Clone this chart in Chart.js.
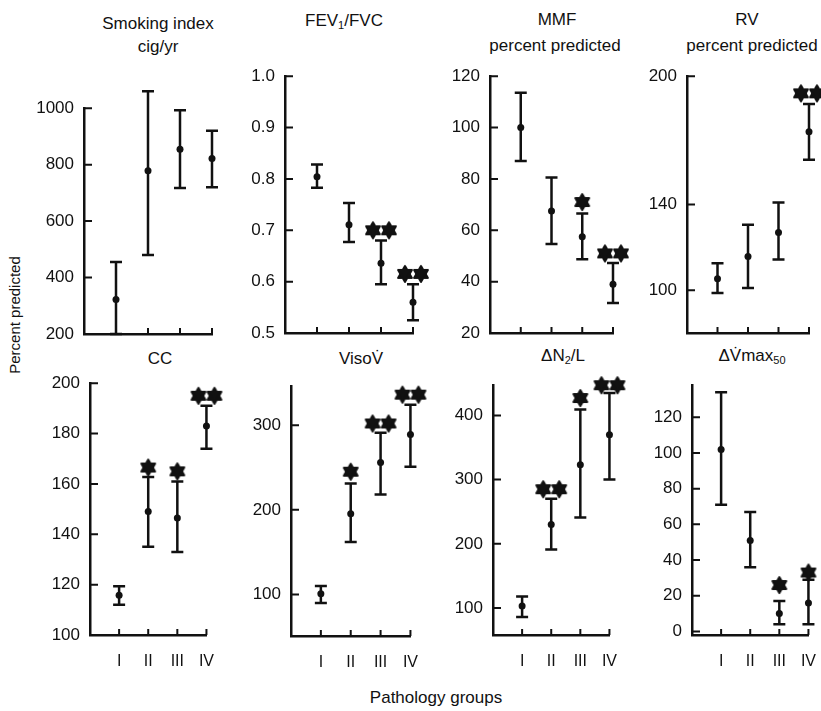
<!DOCTYPE html>
<html lang="en">
<head>
<meta charset="UTF-8">
<title>Pathology groups</title>
<script src="https://cdn.jsdelivr.net/npm/chart.js"></script>
<style>
  body { margin: 0; width: 821px; height: 711px; overflow: hidden; position: relative; background: #fff;
         font-family: "Liberation Sans", Arial, sans-serif; color: #111; }
  .panel { position: absolute; }
  .lbl { position: absolute; font-size: 17px; white-space: nowrap; transform: translate(-50%, -50%); }
  .lbl sub { font-size: 11px; vertical-align: -3px; }
  .ylab { position: absolute; left: 14px; top: 315px; font-size: 15px; white-space: nowrap;
          transform: translate(-50%, -50%) rotate(-90deg); }
</style>
</head>
<body>
<div class="lbl" style="left:158px; top:24px">Smoking index</div>
<div class="lbl" style="left:158px; top:47px">cig/yr</div>
<div class="lbl" style="left:344px; top:21px">FEV<sub>1</sub>/FVC</div>
<div class="lbl" style="left:557px; top:20px">MMF</div>
<div class="lbl" style="left:555px; top:46px">percent predicted</div>
<div class="lbl" style="left:747px; top:20px">RV</div>
<div class="lbl" style="left:752px; top:46px">percent predicted</div>
<div class="lbl" style="left:160px; top:359px">CC</div>
<div class="lbl" style="left:361px; top:359px">VisoV&#775;</div>
<div class="lbl" style="left:563px; top:356px">&Delta;N<sub>2</sub>/L</div>
<div class="lbl" style="left:752px; top:356px">&Delta;V&#775;max<sub>50</sub></div>
<div class="ylab">Percent predicted</div>
<div class="lbl" style="left:436px; top:698px">Pathology groups</div>

<script>
// groups on the x axis
const groups = ["I", "II", "III", "IV"];

// Smoking index, cig/yr
const smokingMean = [322, 778, 855, 822];
const smokingHigh = [455, 1060, 993, 920];
const smokingLow = [200, 480, 717, 720];
const smokingStarAt = [null, null, null, null];
const smokingStars = [0, 0, 0, 0];
const smokingTicks = [200, 400, 600, 800, 1000];

// FEV1/FVC
const fevMean = [0.804, 0.711, 0.636, 0.56];
const fevHigh = [0.828, 0.753, 0.68, 0.595];
const fevLow = [0.783, 0.677, 0.595, 0.525];
const fevStarAt = [null, null, 0.70, 0.615];
const fevStars = [0, 0, 2, 2];
const fevTicks = [0.5, 0.6, 0.7, 0.8, 0.9, 1.0];

// MMF percent predicted
const mmfMean = [100, 67.5, 57.5, 39];
const mmfHigh = [113.6, 80.6, 66.5, 47.3];
const mmfLow = [87, 54.7, 48.7, 31.7];
const mmfStarAt = [null, null, 71, 51];
const mmfStars = [0, 0, 1, 2];
const mmfTicks = [20, 40, 60, 80, 100, 120];

// RV percent predicted
const rvMean = [105.4, 115.8, 127, 174];
const rvHigh = [112.6, 130.6, 141, 187];
const rvLow = [98.7, 101, 114.4, 161];
const rvStarAt = [null, null, null, 192];
const rvStars = [0, 0, 0, 2];
const rvTicks = [100, 140, 200];

// CC
const ccMean = [115.8, 149, 146.5, 183];
const ccHigh = [119.4, 162.7, 161, 191];
const ccLow = [112, 135, 133, 174];
const ccStarAt = [null, 166.5, 165, 195];
const ccStars = [0, 1, 1, 2];
const ccTicks = [100, 120, 140, 160, 180, 200];

// Viso V
const visoMean = [101, 195.5, 256, 289];
const visoHigh = [110, 231, 291, 324];
const visoLow = [90, 162, 218, 251];
const visoStarAt = [null, 245, 302, 336];
const visoStars = [0, 1, 2, 2];
const visoTicks = [100, 200, 300];

// delta N2 / L
const n2Mean = [103, 230, 323, 370];
const n2High = [118, 270, 409, 435];
const n2Low = [86, 191, 241, 300];
const n2StarAt = [null, 285, 427, 447];
const n2Stars = [0, 2, 1, 2];
const n2Ticks = [100, 200, 300, 400];

// delta Vmax50
const vmaxMean = [102, 51, 10, 16];
const vmaxHigh = [134, 67, 17, 29];
const vmaxLow = [71, 36, 4, 4];
const vmaxStarAt = [null, null, 26, 33];
const vmaxStars = [0, 0, 1, 1];
const vmaxTicks = [0, 20, 40, 60, 80, 100, 120];

const INK = "#111";
const FONT = "'Liberation Sans', Arial, sans-serif";
const Y_W = 60, PAD_T = 12, PAD_R = 16, X_H = 40;

// filled six-pointed star(s) used as point images
function starImage(n) {
  const r = 8;
  const c = document.createElement("canvas");
  c.width = n === 2 ? 36 : 20;
  c.height = 20;
  const g = c.getContext("2d");
  g.fillStyle = INK;
  g.strokeStyle = INK;
  g.lineWidth = 2;
  g.lineJoin = "round";
  const centers = n === 2 ? [10, 26] : [10];
  centers.forEach(cx => {
    [-90, 90].forEach(a0 => {
      g.beginPath();
      for (let k = 0; k < 3; k++) {
        const a = (a0 + k * 120) * Math.PI / 180;
        const px = cx + r * Math.cos(a), py = 10 + r * Math.sin(a);
        if (k === 0) g.moveTo(px, py); else g.lineTo(px, py);
      }
      g.closePath();
      g.fill();
      g.stroke();
    });
  });
  return c;
}
const starOne = starImage(1);
const starTwo = starImage(2);

const panels = [
  { axisX: 84, endX: 212, top: 100, bottom: 334, min: 200, max: 1000, ticks: smokingTicks,
    mean: smokingMean, hi: smokingHigh, lo: smokingLow, starAt: smokingStarAt, stars: smokingStars, groups: false },
  { axisX: 285, endX: 413, top: 68, bottom: 333, min: 0.5, max: 1.0, ticks: fevTicks, fmt: v => v.toFixed(1),
    mean: fevMean, hi: fevHigh, lo: fevLow, starAt: fevStarAt, stars: fevStars, groups: false },
  { axisX: 490, endX: 613, top: 68, bottom: 333, min: 20, max: 120, ticks: mmfTicks,
    mean: mmfMean, hi: mmfHigh, lo: mmfLow, starAt: mmfStarAt, stars: mmfStars, groups: false },
  { axisX: 687, endX: 809, top: 68, bottom: 333, min: 80, max: 200, ticks: rvTicks,
    mean: rvMean, hi: rvHigh, lo: rvLow, starAt: rvStarAt, stars: rvStars, groups: false },
  { axisX: 90, endX: 215, top: 375, bottom: 635, min: 100, max: 200, ticks: ccTicks,
    mean: ccMean, hi: ccHigh, lo: ccLow, starAt: ccStarAt, stars: ccStars, groups: true },
  { axisX: 291, endX: 419, top: 378, bottom: 636, min: 51, max: 346, ticks: visoTicks,
    mean: visoMean, hi: visoHigh, lo: visoLow, starAt: visoStarAt, stars: visoStars, groups: true },
  { axisX: 493, endX: 618, top: 377, bottom: 635, min: 58, max: 447, ticks: n2Ticks,
    mean: n2Mean, hi: n2High, lo: n2Low, starAt: n2StarAt, stars: n2Stars, groups: true },
  { axisX: 692, endX: 817, top: 377, bottom: 635, min: -2, max: 138, ticks: vmaxTicks,
    mean: vmaxMean, hi: vmaxHigh, lo: vmaxLow, starAt: vmaxStarAt, stars: vmaxStars, groups: true }
];

// whiskers with caps, drawn under the mean dots
function errorBars(p) {
  return {
    id: "errorBars",
    beforeDatasetsDraw(chart) {
      const { ctx, scales: { x, y } } = chart;
      ctx.save();
      ctx.strokeStyle = INK;
      ctx.lineWidth = 2.5;
      p.mean.forEach((m, i) => {
        const px = x.getPixelForValue(i + 1);
        const yh = y.getPixelForValue(p.hi[i]);
        const yl = y.getPixelForValue(p.lo[i]);
        ctx.beginPath();
        ctx.moveTo(px, yh); ctx.lineTo(px, yl);
        ctx.moveTo(px - 6, yh); ctx.lineTo(px + 6, yh);
        ctx.moveTo(px - 6, yl); ctx.lineTo(px + 6, yl);
        ctx.stroke();
      });
      ctx.restore();
    }
  };
}

// short tick marks pointing into the plot
const innerTicks = {
  id: "innerTicks",
  afterDraw(chart) {
    const { ctx, chartArea: a, scales: { x, y } } = chart;
    ctx.save();
    ctx.strokeStyle = INK;
    ctx.lineWidth = 2;
    ctx.beginPath();
    y.ticks.forEach(t => {
      const py = y.getPixelForValue(t.value);
      ctx.moveTo(a.left, py); ctx.lineTo(a.left + 8, py);
    });
    x.ticks.forEach(t => {
      const px = x.getPixelForValue(t.value);
      ctx.moveTo(px, a.bottom); ctx.lineTo(px, a.bottom - 6);
    });
    ctx.stroke();
    ctx.restore();
  }
};

function makePanel(p) {
  const cv = document.createElement("canvas");
  cv.width = Y_W + (p.endX - p.axisX) + PAD_R;
  cv.height = PAD_T + (p.bottom - p.top) + X_H;
  cv.className = "panel";
  cv.style.left = (p.axisX - Y_W) + "px";
  cv.style.top = (p.top - PAD_T) + "px";
  document.body.appendChild(cv);

  const meanPts = p.mean.map((v, i) => ({ x: i + 1, y: v }));
  const starPts = [];
  p.starAt.forEach((v, i) => {
    if (v !== null) starPts.push({ x: i + 1, y: v, n: p.stars[i] });
  });

  new Chart(cv, {
    type: "scatter",
    data: {
      datasets: [
        { data: meanPts, pointRadius: 3.5, backgroundColor: INK, borderWidth: 0, clip: false },
        { data: starPts, pointRadius: 8, clip: false,
          pointStyle: c => (c.raw && c.raw.n === 2) ? starTwo : starOne }
      ]
    },
    options: {
      responsive: false,
      animation: false,
      events: [],
      layout: { padding: { top: PAD_T, right: PAD_R, left: 0, bottom: 0 } },
      plugins: { legend: { display: false }, tooltip: { enabled: false } },
      scales: {
        x: {
          type: "linear", min: 0, max: 4,
          grid: { display: false, drawTicks: false },
          border: { display: true, color: INK, width: 2.5 },
          afterBuildTicks: s => { s.ticks = groups.map((g, i) => ({ value: i + 1 })); },
          afterFit: s => { s.height = X_H; },
          ticks: { display: p.groups, callback: v => groups[v - 1], padding: 17, maxRotation: 0,
                   autoSkip: false, color: INK, font: { family: FONT, size: 16 } }
        },
        y: {
          type: "linear", min: p.min, max: p.max,
          grid: { display: false, drawTicks: false },
          border: { display: true, color: INK, width: 2.5 },
          afterBuildTicks: s => { s.ticks = p.ticks.map(v => ({ value: v })); },
          afterFit: s => { s.width = Y_W; },
          ticks: { padding: 10, autoSkip: false, color: INK, font: { family: FONT, size: 17 },
                   callback: v => p.fmt ? p.fmt(v) : String(v) }
        }
      }
    },
    plugins: [errorBars(p), innerTicks]
  });
}

panels.forEach(makePanel);
</script>
</body>
</html>
